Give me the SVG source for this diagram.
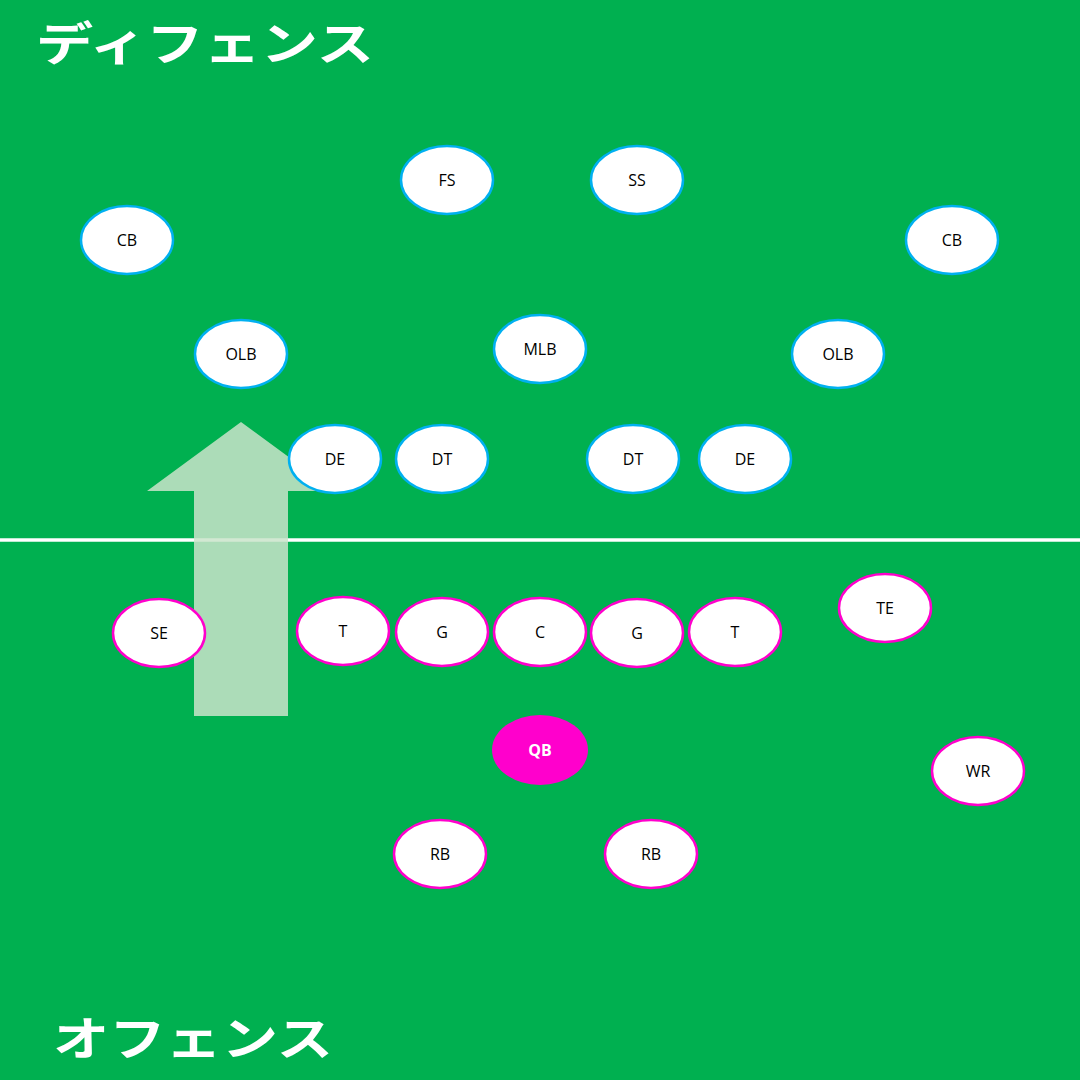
<svg xmlns="http://www.w3.org/2000/svg" width="1080" height="1080" viewBox="0 0 1080 1080">
<style>
.d{fill:#ffffff;stroke:#00b0f0;stroke-width:2.5}
.o{fill:#ffffff;stroke:#ff00cc;stroke-width:2.5}
.t{font-family:"Open Sans","Noto Sans",sans-serif;font-size:16px;fill:#000000;text-anchor:middle;dominant-baseline:central}
.title{font-family:"Noto Sans CJK JP",sans-serif;font-weight:bold;font-size:46px;fill:#ffffff}
</style>
<rect x="0" y="0" width="1080" height="1080" fill="#00b050"/>
<text class="title" x="36" y="60" textLength="338" lengthAdjust="spacingAndGlyphs">ディフェンス</text>
<text class="title" x="53" y="1055" textLength="280" lengthAdjust="spacingAndGlyphs">オフェンス</text>
<line x1="0" y1="540" x2="1080" y2="540" stroke="#ffffff" stroke-width="3.5"/>
<g id="connectors">
<polygon points="241,422 335,491 288,491 288,716 194,716 194,491 147,491" fill="#cae4ca" fill-opacity="0.85"/>
</g>
<g id="FS"><ellipse class="d" cx="447" cy="180" rx="46" ry="34"/><text class="t" x="447" y="180">FS</text></g>
<g id="SS"><ellipse class="d" cx="637" cy="180" rx="46" ry="34"/><text class="t" x="637" y="180">SS</text></g>
<g id="CB1"><ellipse class="d" cx="127" cy="240" rx="46" ry="34"/><text class="t" x="127" y="240">CB</text></g>
<g id="CB2"><ellipse class="d" cx="952" cy="240" rx="46" ry="34"/><text class="t" x="952" y="240">CB</text></g>
<g id="OLB1"><ellipse class="d" cx="241" cy="354" rx="46" ry="34"/><text class="t" x="241" y="354">OLB</text></g>
<g id="MLB"><ellipse class="d" cx="540" cy="349" rx="46" ry="34"/><text class="t" x="540" y="349">MLB</text></g>
<g id="OLB2"><ellipse class="d" cx="838" cy="354" rx="46" ry="34"/><text class="t" x="838" y="354">OLB</text></g>
<g id="DE1"><ellipse class="d" cx="335" cy="459" rx="46" ry="34"/><text class="t" x="335" y="459">DE</text></g>
<g id="DT1"><ellipse class="d" cx="442" cy="459" rx="46" ry="34"/><text class="t" x="442" y="459">DT</text></g>
<g id="DT2"><ellipse class="d" cx="633" cy="459" rx="46" ry="34"/><text class="t" x="633" y="459">DT</text></g>
<g id="DE2"><ellipse class="d" cx="745" cy="459" rx="46" ry="34"/><text class="t" x="745" y="459">DE</text></g>
<g id="SE"><ellipse class="o" cx="159" cy="633" rx="46" ry="34"/><text class="t" x="159" y="633">SE</text></g>
<g id="T1"><ellipse class="o" cx="343" cy="631" rx="46" ry="34"/><text class="t" x="343" y="631">T</text></g>
<g id="G1"><ellipse class="o" cx="442" cy="632" rx="46" ry="34"/><text class="t" x="442" y="632">G</text></g>
<g id="C"><ellipse class="o" cx="540" cy="632" rx="46" ry="34"/><text class="t" x="540" y="632">C</text></g>
<g id="G2"><ellipse class="o" cx="637" cy="633" rx="46" ry="34"/><text class="t" x="637" y="633">G</text></g>
<g id="T2"><ellipse class="o" cx="735" cy="632" rx="46" ry="34"/><text class="t" x="735" y="632">T</text></g>
<g id="TE"><ellipse class="o" cx="885" cy="608" rx="46" ry="34"/><text class="t" x="885" y="608">TE</text></g>
<g id="QB"><ellipse cx="540" cy="750" rx="48" ry="35" fill="#ff00cc"/><text class="t" x="540" y="750" style="fill:#ffffff;font-weight:bold">QB</text></g>
<g id="WR"><ellipse class="o" cx="978" cy="771" rx="46" ry="34"/><text class="t" x="978" y="771">WR</text></g>
<g id="RB1"><ellipse class="o" cx="440" cy="854" rx="46" ry="34"/><text class="t" x="440" y="854">RB</text></g>
<g id="RB2"><ellipse class="o" cx="651" cy="854" rx="46" ry="34"/><text class="t" x="651" y="854">RB</text></g>
</svg>
